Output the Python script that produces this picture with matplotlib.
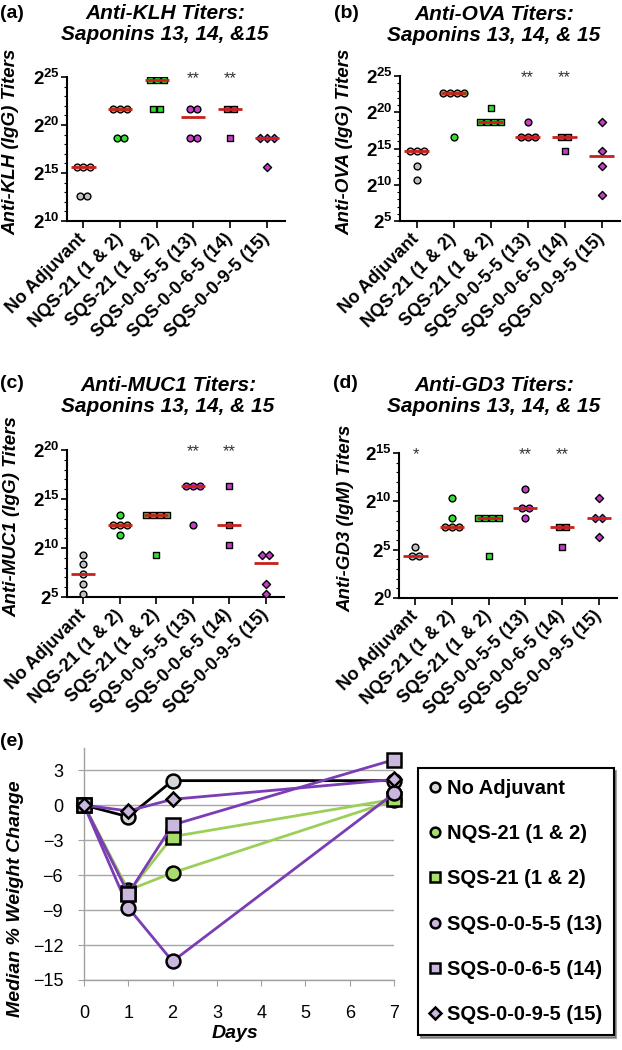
import numpy as np
import matplotlib.pyplot as plt
from matplotlib.lines import Line2D
from matplotlib.ticker import FixedLocator, FuncFormatter, NullFormatter
import matplotlib.transforms as mtransforms

plt.rcParams['font.family'] = ['Liberation Sans', 'DejaVu Sans']
plt.rcParams['mathtext.fontset'] = 'custom'
plt.rcParams['mathtext.rm'] = 'Liberation Sans:bold'
plt.rcParams['mathtext.bf'] = 'Liberation Sans:bold'

groups = ['No Adjuvant', 'NQS-21 (1 & 2)', 'SQS-21 (1 & 2)',
          'SQS-0-0-5-5 (13)', 'SQS-0-0-6-5 (14)', 'SQS-0-0-9-5 (15)']
group_markers = ['o', 'o', 's', 'o', 's', 'D']
group_colors = ['#c0c0c0', '#2fe02f', '#2fe02f', '#c83cc8', '#c83cc8', '#c83cc8']

# titers per mouse (endpoint dilutions)
klh_titers = [
    [51200, 51200, 51200, 6400, 6400],
    [3276800, 3276800, 3276800, 409600, 409600],
    [26214400, 26214400, 26214400, 3276800, 3276800],
    [3276800, 3276800, 409600, 409600],
    [3276800, 3276800, 409600],
    [409600, 409600, 409600, 51200],
]
ova_titers = [
    [25600, 25600, 25600, 6400, 1600],
    [6553600, 6553600, 6553600, 6553600, 102400],
    [1638400, 409600, 409600, 409600, 409600],
    [409600, 102400, 102400, 102400],
    [102400, 102400, 25600],
    [409600, 25600, 6400, 400],
]
muc1_titers = [
    [640, 320, 160, 80, 40],
    [10240, 5120, 5120, 5120, 2560],
    [10240, 10240, 10240, 10240, 640],
    [81920, 81920, 81920, 5120],
    [81920, 5120, 1280],
    [640, 640, 80, 40],
]
gd3_titers = [
    [40, 20, 20],
    [1280, 320, 160, 160, 160],
    [320, 320, 320, 320, 20],
    [2560, 640, 640, 320],
    [160, 160, 40],
    [1280, 320, 320, 80],
]

# weight change panel
days = [0, 1, 2, 7]
weight_no_adj = [0, -1.0, 2.1, 2.1]
weight_nqs21 = [0, -7.3, -5.8, 0.4]
weight_sqs21 = [0, -7.5, -2.7, 0.5]
weight_13 = [0, -8.8, -13.4, 1.0]
weight_14 = [0, -7.6, -1.7, 3.9]
weight_15 = [0, -0.5, 0.5, 2.2]

W, H = 622, 1050
fig = plt.figure(figsize=(W / 100, H / 100), dpi=100)


def box(x0, y0, x1, y1):
    # pixel box (top-left origin) -> figure fraction rect
    return [x0 / W, 1 - y1 / H, (x1 - x0) / W, (y1 - y0) / H]


def titer_panel(rect, data, elo, ehi, stars):
    ax = fig.add_axes(rect)
    ax.set_yscale('log', base=2)
    for i, vals in enumerate(data):
        vals = np.array(vals, dtype=float)
        for v in np.unique(vals):
            n = int((vals == v).sum())
            xs = i + (np.arange(n) - (n - 1) / 2) * 0.19
            ax.scatter(xs, [v] * n, marker=group_markers[i], s=24 if group_markers[i] != 'D' else 17,
                       c=group_colors[i], edgecolors='black', linewidths=1.0, zorder=3)
        med = np.median(vals)
        ax.plot([i - 0.33, i + 0.33], [med, med], color='#c8201c', lw=2, zorder=4,
                solid_capstyle='butt')
    ax.set_ylim(2.0 ** elo, 2.0 ** ehi)
    ax.set_xlim(-0.45, 5.5)
    ax.yaxis.set_major_locator(FixedLocator([2.0 ** k for k in range(elo, ehi + 1, 5)]))
    ax.yaxis.set_minor_locator(FixedLocator([2.0 ** k for k in range(elo, ehi + 1)]))
    ax.yaxis.set_major_formatter(FuncFormatter(lambda v, p: r'$\mathbf{2^{%d}}$' % round(np.log2(v))))
    ax.yaxis.set_minor_formatter(NullFormatter())
    ax.set_xticks(range(len(groups)))
    ax.set_xticklabels(groups, rotation=45, ha='right', va='center', rotation_mode='anchor',
                       fontsize=13, fontweight='bold')
    ax.tick_params(axis='y', which='major', labelsize=13.5, length=4, width=1.2, pad=1)
    ax.tick_params(axis='y', which='minor', length=2, width=0.8)
    ax.tick_params(axis='x', length=5, width=1.2, pad=6)
    for s in ['top', 'right']:
        ax.spines[s].set_visible(False)
    for s in ['left', 'bottom']:
        ax.spines[s].set_linewidth(1.5)
    trans = mtransforms.blended_transform_factory(ax.transData, ax.transAxes)
    for i, st in stars:
        ax.text(i, 0.99, st, transform=trans, ha='center', va='center', fontsize=12, color='#333333')
    return ax


title_kw = dict(fontsize=15, fontweight='bold', fontstyle='italic', ha='center', va='center',
                linespacing=1.1)
label_kw = dict(fontsize=13.5, fontweight='bold', fontstyle='italic', ha='center', va='center',
                rotation=90)
panel_kw = dict(fontsize=14, fontweight='bold', ha='left', va='center')

# (a)
titer_panel(box(67, 77, 285, 221), klh_titers, 10, 25, [(3, '**'), (4, '**')])
fig.text(165 / W, 1 - 24 / H, 'Anti-KLH Titers:\nSaponins 13, 14, &15', **title_kw)
fig.text(11 / W, 1 - 142 / H, 'Anti-KLH (IgG) Titers', **label_kw)
fig.text(0, 1 - 13 / H, '(a)', **panel_kw)

# (b)
titer_panel(box(400, 76, 620, 221), ova_titers, 5, 25, [(3, '**'), (4, '**')])
fig.text(494 / W, 1 - 25 / H, 'Anti-OVA Titers:\nSaponins 13, 14, & 15', **title_kw)
fig.text(345 / W, 1 - 142 / H, 'Anti-OVA (IgG) Titers', **label_kw)
fig.text(334 / W, 1 - 13 / H, '(b)', **panel_kw)

# (c)
titer_panel(box(67, 450, 284, 597), muc1_titers, 5, 20, [(3, '**'), (4, '**')])
fig.text(168 / W, 1 - 396 / H, 'Anti-MUC1 Titers:\nSaponins 13, 14, & 15', **title_kw)
fig.text(12 / W, 1 - 517 / H, 'Anti-MUC1 (IgG) Titers', **label_kw)
fig.text(0, 1 - 384 / H, '(c)', **panel_kw)

# (d)
titer_panel(box(399, 453, 617, 598), gd3_titers, 0, 15, [(0, '*'), (3, '**'), (4, '**')])
fig.text(494 / W, 1 - 396 / H, 'Anti-GD3 Titers:\nSaponins 13, 14, & 15', **title_kw)
fig.text(346 / W, 1 - 518 / H, 'Anti-GD3 (IgM) Titers', **label_kw)
fig.text(333 / W, 1 - 383 / H, '(d)', **panel_kw)

# (e) weight change
ax = fig.add_axes(box(84, 748, 394, 980))
gray_fill, green_fill, lav_fill = '#d6d6d6', '#a8dc6c', '#c9b7de'
green_line, purple_line = '#9ccf58', '#7a3db3'
series = [
    ('No Adjuvant', weight_no_adj, 'o', gray_fill, 'black'),
    ('NQS-21 (1 & 2)', weight_nqs21, 'o', green_fill, green_line),
    ('SQS-21 (1 & 2)', weight_sqs21, 's', green_fill, green_line),
    ('SQS-0-0-5-5 (13)', weight_13, 'o', lav_fill, purple_line),
    ('SQS-0-0-6-5 (14)', weight_14, 's', lav_fill, purple_line),
    ('SQS-0-0-9-5 (15)', weight_15, 'D', lav_fill, purple_line),
]
handles = []
for name, vals, mk, fill, lc in series:
    ms = 10 if mk != 'D' else 7.5
    ax.plot(days, vals, color=lc, lw=2, marker=mk, markersize=ms, markerfacecolor=fill,
            markeredgecolor='black', markeredgewidth=1.8, zorder=3, clip_on=False)
    handles.append(Line2D([], [], linestyle='none', marker=mk, markersize=7 if mk != 'D' else 6,
                          markerfacecolor=fill, markeredgecolor='black', markeredgewidth=1.8,
                          label=name))
ax.set_xlim(0, 7)
ax.set_ylim(-15, 4.9)
ax.set_yticks([3, 0, -3, -6, -9, -12, -15])
ax.set_xticks(range(8))
ax.yaxis.grid(True, color='#a6a6a6', lw=1)
ax.set_axisbelow(True)
for s in ['top', 'right']:
    ax.spines[s].set_visible(False)
for s in ['left', 'bottom']:
    ax.spines[s].set_color('#a0a0a0')
    ax.spines[s].set_linewidth(1)
ax.tick_params(axis='y', labelsize=13, length=4, color='#a0a0a0', pad=11)
ax.tick_params(axis='x', labelsize=13, length=4, color='#a0a0a0', pad=14)
fig.text(235 / W, 1 - 1034 / H, 'Days', fontsize=14, fontweight='bold', fontstyle='italic',
         ha='center', va='center')
fig.text(16 / W, 1 - 899 / H, 'Median % Weight Change', fontsize=14, fontweight='bold',
         fontstyle='italic', ha='center', va='center', rotation=90)
fig.text(0, 1 - 742 / H, '(e)', **panel_kw)

leg = fig.legend(handles=handles, loc='upper left', bbox_to_anchor=(418 / W, 1 - 768 / H),
                 prop={'size': 14.5, 'weight': 'bold'}, frameon=True, fancybox=False, shadow=True,
                 labelspacing=1.3, handlelength=0.6, handletextpad=0.3, borderpad=0.55,
                 borderaxespad=0)
leg.get_frame().set_edgecolor('black')
leg.get_frame().set_linewidth(1.5)

fig.savefig('out.png', dpi=100)
